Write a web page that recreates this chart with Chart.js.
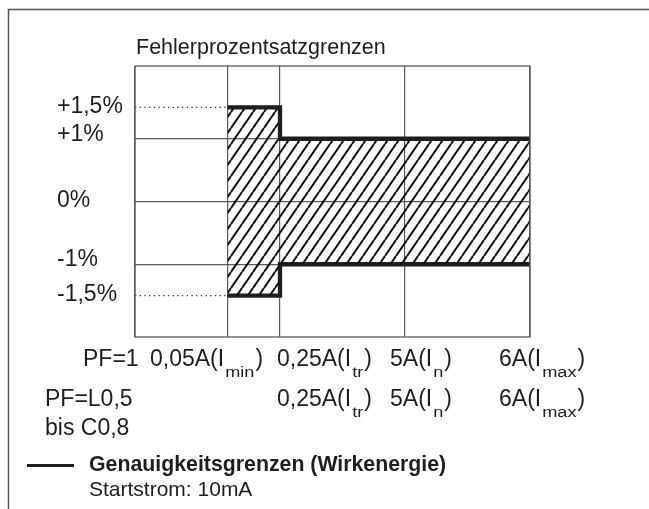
<!DOCTYPE html>
<html>
<head>
<meta charset="utf-8">
<script src="https://cdn.jsdelivr.net/npm/chart.js@4.4.1/dist/chart.umd.min.js"></script>
<style>
  html, body { margin: 0; padding: 0; background: #fff; }
  canvas { display: block; }
</style>
</head>
<body>
<canvas id="chart" width="649" height="509"></canvas>
<script>
// column boundaries of the schematic current axis (Imin, Itr, In, Imax)
const xBounds = [0, 0.74, 1.16, 2.16, 3.16];
const limitX = [0.74, 1.16, 3.16];
const upperLimit = [1.5, 1, 1];
const lowerLimit = [-1.5, -1, -1];
const gridY = [1, 0, -1];
const yTicks = [1.5, 1, 0, -1, -1.5];
const yTickLabels = ['+1,5%', '+1%', '0%', '-1%', '-1,5%'];

const chartTitle = 'Fehlerprozentsatzgrenzen';
const pf1Label = 'PF=1';
const pf1Currents = ['0,05A', '0,25A', '5A', '6A'];
const pf1Subs = ['min', 'tr', 'n', 'max'];
const pf2Label = ['PF=L0,5', 'bis C0,8'];
const pf2Currents = ['0,25A', '5A', '6A'];
const pf2Subs = ['tr', 'n', 'max'];
const legendLabel = 'Genauigkeitsgrenzen (Wirkenergie)';
const legendNote = 'Startstrom: 10mA';

// text layout
const FONT = '"Liberation Sans", Arial, sans-serif';
const INK = '#1e1e1e';
const GRID = '#5a5a5a';
const yLabelNudge = [-1, -4, -1, -5, -1];
const currentX = [150, 277, 390, 499];

function hatchPattern() {
  const c = document.createElement('canvas');
  c.width = 11;
  c.height = 16;
  const g = c.getContext('2d');
  g.strokeStyle = '#111';
  g.lineWidth = 2;
  g.beginPath();
  g.moveTo(-11, 16); g.lineTo(0, 0);
  g.moveTo(0, 16); g.lineTo(11, 0);
  g.moveTo(11, 16); g.lineTo(22, 0);
  g.stroke();
  return g.createPattern(c, 'repeat');
}

function text(ctx, s, x, y, size, bold) {
  ctx.font = (bold ? 'bold ' : '') + size + 'px ' + FONT;
  ctx.fillText(s, x, y);
  return ctx.measureText(s).width;
}

function current(ctx, main, sub, x, y) {
  let w = text(ctx, main + '(I', x, y, 23);
  ctx.save();
  ctx.font = '14px ' + FONT;
  ctx.translate(x + w + 1, y + 11);
  ctx.scale(1.3, 1);
  ctx.fillText(sub, 0, 0);
  const sw = ctx.measureText(sub).width * 1.3;
  ctx.restore();
  text(ctx, ')', x + w + 1 + sw + 1, y, 23);
}

const decorations = {
  id: 'decorations',
  afterDraw(chart) {
    const { ctx, chartArea: a, scales: { y } } = chart;
    ctx.save();

    // outer frame (cropped on right and bottom)
    ctx.strokeStyle = '#555';
    ctx.lineWidth = 1.5;
    ctx.beginPath();
    ctx.moveTo(8.5, 509);
    ctx.lineTo(8.5, 9.5);
    ctx.lineTo(649, 9.5);
    ctx.stroke();

    // plot frame
    ctx.strokeStyle = GRID;
    ctx.lineWidth = 1.3;
    ctx.strokeRect(a.left, a.top, a.right - a.left, a.bottom - a.top);

    ctx.fillStyle = INK;
    ctx.textBaseline = 'alphabetic';
    ctx.textAlign = 'left';
    text(ctx, chartTitle, a.left + 1, 54, 21.5);

    ctx.textBaseline = 'middle';
    yTicks.forEach((v, i) => {
      text(ctx, yTickLabels[i], 57, y.getPixelForValue(v) + yLabelNudge[i], 23);
    });

    ctx.textBaseline = 'alphabetic';
    text(ctx, pf1Label, 83, 366, 23);
    pf1Currents.forEach((c, i) => current(ctx, c, pf1Subs[i], currentX[i], 366));
    text(ctx, pf2Label[0], 45, 406, 23);
    text(ctx, pf2Label[1], 45, 435, 23);
    pf2Currents.forEach((c, i) => current(ctx, c, pf2Subs[i], currentX[i + 1], 406));

    // legend
    ctx.strokeStyle = INK;
    ctx.lineWidth = 3;
    ctx.beginPath();
    ctx.moveTo(27, 465.5);
    ctx.lineTo(74, 465.5);
    ctx.stroke();
    ctx.textBaseline = 'middle';
    text(ctx, legendLabel, 89, 465, 21.3, true);
    text(ctx, legendNote, 89, 490, 21);

    ctx.restore();
  }
};

const pts = (xs, ys) => xs.map((x, i) => ({ x: x, y: ys[i] }));

new Chart(document.getElementById('chart'), {
  type: 'line',
  data: {
    datasets: [
      {
        data: pts(limitX, upperLimit),
        stepped: true,
        borderColor: INK,
        borderWidth: 4.3,
        pointRadius: 0,
        fill: 1,
        backgroundColor: hatchPattern()
      },
      {
        data: pts(limitX, lowerLimit),
        stepped: true,
        borderColor: INK,
        borderWidth: 4.3,
        pointRadius: 0,
        fill: false
      },
      {
        data: pts([xBounds[0], limitX[0]], [upperLimit[0], upperLimit[0]]),
        borderColor: '#333',
        borderWidth: 1.3,
        borderDash: [1.3, 3.4],
        pointRadius: 0,
        fill: false
      },
      {
        data: pts([xBounds[0], limitX[0]], [lowerLimit[0], lowerLimit[0]]),
        borderColor: '#333',
        borderWidth: 1.3,
        borderDash: [1.3, 3.4],
        pointRadius: 0,
        fill: false
      }
    ]
  },
  options: {
    responsive: false,
    animation: false,
    layout: { padding: { left: 135, right: 119, top: 66, bottom: 172 } },
    plugins: {
      legend: { display: false },
      tooltip: { enabled: false }
    },
    scales: {
      x: {
        type: 'linear',
        min: xBounds[0],
        max: xBounds[xBounds.length - 1],
        afterBuildTicks: s => { s.ticks = xBounds.map(v => ({ value: v })); },
        afterFit: s => { s.height = 0; },
        ticks: { display: false },
        border: { display: false },
        grid: { color: GRID, lineWidth: 1.2, drawTicks: false }
      },
      y: {
        min: -2.16,
        max: 2.16,
        afterBuildTicks: s => { s.ticks = gridY.map(v => ({ value: v })); },
        afterFit: s => { s.width = 0; },
        ticks: { display: false },
        border: { display: false },
        grid: { color: GRID, lineWidth: 1.2, drawTicks: false }
      }
    }
  },
  plugins: [decorations]
});
</script>
</body>
</html>
